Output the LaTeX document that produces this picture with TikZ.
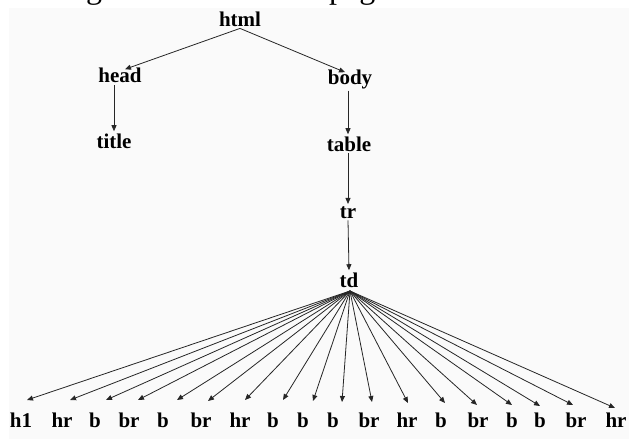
\documentclass[tikz,border=0pt]{standalone}
\usepackage{fontspec}
\setmainfont{Liberation Serif}
\usetikzlibrary{arrows.meta,calc}
\begin{document}
\begin{tikzpicture}[x=1pt,y=-1pt,
  tag/.style={font=\fontsize{21}{21}\selectfont\bfseries, inner sep=0pt, anchor=base},
  arr/.style={draw=black!85, line width=0.8pt, -{Triangle[length=6pt,width=5pt]}},
  captext/.style={font=\fontsize{32}{32}\selectfont, inner sep=0pt, anchor=base west}]
\useasboundingbox (0,0) rectangle (629,439);
\fill[black!2] (9,8) rectangle (629,439);
% clipped caption line above the picture
\node[captext] (capa) at (86,-1.5) {g};
\node[captext] (capb) at (329,-1.5) {pag};
% upper tree
\node[tag] (html)  at (240,26)  {html};
\node[tag] (head)  at (120,82)  {head};
\node[tag] (body)  at (350,84)  {body};
\node[tag] (title) at (114,148) {title};
\node[tag] (table) at (349,151) {table};
\node[tag] (tr)    at (348,218) {tr};
\node[tag] (td)    at (349,287) {td};
\coordinate (fan) at (350,291);
\draw[arr] ($(html.south)+(0,2)$) -- ($(head.north)+(5,2)$);
\draw[arr] ($(html.south)+(0,2)$) -- ($(body.north)+(-5,3)$);
\draw[arr] ($(title.north |- head.south)+(0,3)$) -- ($(title.north)+(0,-2)$);
\draw[arr] ($(table.north |- body.south)+(-1,2)$) -- ($(table.north)+(-1,-2)$);
\draw[arr] ($(table.south)+(-1,2)$) -- ($(tr.north)+(0,-2)$);
\draw[arr] ($(tr.south)+(0,2)$) -- ($(td.north)+(0,-2)$);
% leaves
\foreach \i/\t/\x/\tx/\ty in {
  1/h1/21/27/400, 2/hr/62/70/400, 3/b/95/106/400, 4/br/129/138/400,
  5/b/163/177/400, 6/br/201/208/401, 7/hr/240/245/400, 8/b/273/283/400,
  9/b/303/313/401, 10/b/333/342/402, 11/br/369/372/402, 12/hr/407/408/403,
  13/b/441/445/403, 14/br/478/477/405, 15/b/512/512/405, 16/b/540/540/406,
  17/br/576/573/405, 18/hr/616/615/408} {
  \node[tag] (leaf\i) at (\x,427) {\t};
  \coordinate (tip\i) at (\tx,\ty);
  \draw[arr] (fan) -- (tip\i);
}
\end{tikzpicture}
\end{document}
